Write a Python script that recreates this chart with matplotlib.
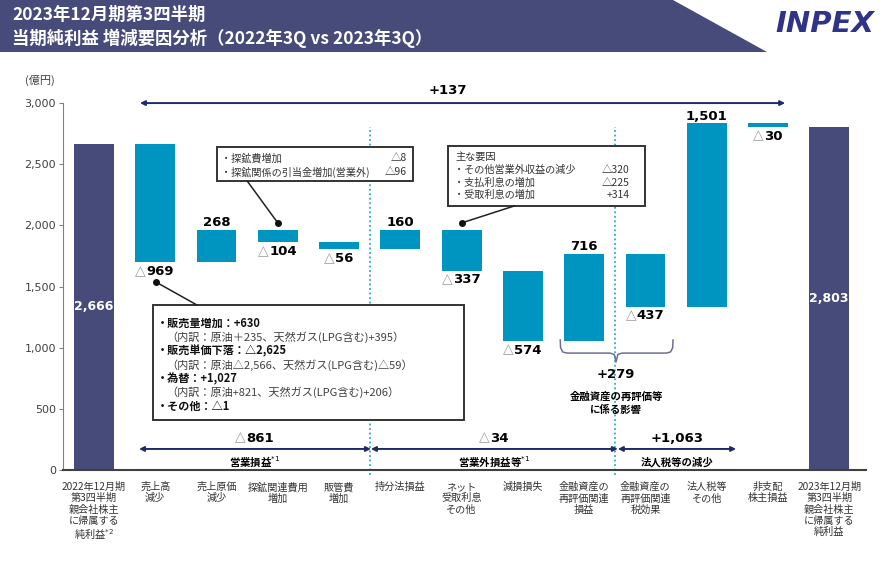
import matplotlib
matplotlib.use('Agg')
import matplotlib.pyplot as plt
from matplotlib.patches import Rectangle, Polygon

plt.rcParams['font.family'] = ['Noto Sans CJK JP', 'DejaVu Sans']

# ---- data ----
categories = [
    '2022年12月期\n第3四半期\n親会社株主\nに帰属する\n純利益$^{*2}$',
    '売上高\n減少', '売上原価\n減少', '探鉱関連費用\n増加', '販管費\n増加',
    '持分法損益', 'ネット\n受取利息\nその他', '減損損失',
    '金融資産の\n再評価関連\n損益', '金融資産の\n再評価関連\n税効果',
    '法人税等\nその他', '非支配\n株主損益',
    '2023年12月期\n第3四半期\n親会社株主\nに帰属する\n純利益',
]
start_value = 2666
end_value = 2803
deltas = [-969, 268, -104, -56, 160, -337, -574, 716, -437, 1501, -30]
total_change = '+137'

group_values = ['△861', '△34', '+1,063']
group_names = ['営業損益$^{*1}$', '営業外損益等$^{*1}$', '法人税等の減少']
group_spans = [(0.735, 4.52), (4.52, 8.55), (8.55, 10.48)]

box1_lines = [
    ('・販売量増加：+630', True),
    ('（内訳：原油＋235、天然ガス(LPG含む)+395）', False),
    ('・販売単価下落：△2,625', True),
    ('（内訳：原油△2,566、天然ガス(LPG含む)△59）', False),
    ('・為替：+1,027', True),
    ('（内訳：原油+821、天然ガス(LPG含む)+206）', False),
    ('・その他：△1', True),
]
box2_items = ['・探鉱費増加', '・探鉱関係の引当金増加(営業外)']
box2_values = ['△8', '△96']
box3_items = ['・その他営業外収益の減少', '・支払利息の増加', '・受取利息の増加']
box3_values = ['△320', '△225', '+314']

NAVY = '#474b7a'
BLUE = '#0095c0'
ARROW = '#1f2a66'
DOT = '#2aa8d8'
GRAY_TRI = '#a0a0a0'

fig = plt.figure(figsize=(8.86, 5.61), dpi=100)

# title banner
fig.patches.append(Polygon([(0, 1), (673 / 886, 1), (767 / 886, 1 - 52 / 561), (0, 1 - 52 / 561)],
                           closed=True, transform=fig.transFigure, facecolor=NAVY, edgecolor='none'))
fig.text(12 / 886, 1 - 15 / 561, '2023年12月期第3四半期', color='white', fontsize=12.5,
         fontweight='bold', va='center', ha='left')
fig.text(12 / 886, 1 - 38 / 561, '当期純利益 増減要因分析（2022年3Q vs 2023年3Q）', color='white',
         fontsize=12.5, fontweight='bold', va='center', ha='left')
fig.text(825 / 886, 1 - 24 / 561, 'INPEX', color='#2f3488', fontsize=21, fontweight='bold',
         fontstyle='italic', family='DejaVu Sans', ha='center', va='center')
fig.text(40 / 886, 1 - 80 / 561, '(億円)', fontsize=8, color='#404040', ha='center', va='center')

ax = fig.add_axes([63 / 886, 91 / 561, (866 - 63) / 886, 397.5 / 561])
ax.set_xlim(-0.506, 12.6)
ax.set_ylim(0, 3250)

# ---- waterfall ----
n = len(categories)
width = 0.65
ax.bar(0, start_value, width=width, color=NAVY, zorder=2)
ax.bar(n - 1, end_value, width=width, color=NAVY, zorder=2)

level = start_value
bar_ranges = []
for i, d in enumerate(deltas, start=1):
    lo, hi = min(level, level + d), max(level, level + d)
    ax.bar(i, hi - lo, bottom=lo, width=width, color=BLUE, zorder=2)
    bar_ranges.append((i, lo, hi, d))
    level += d


def num_label(x, y, text, dy, size=9.5, color='black'):
    if text.startswith('△'):
        digits = text[1:]
        tri_w = size * 0.8
        num_w = size * sum(0.36 if c == ',' else 0.7 for c in digits)
        shift = (tri_w - num_w) / 2
        ax.annotate('△', (x, y), xytext=(shift - 0.5, dy), textcoords='offset points', ha='right',
                    va='baseline', color=GRAY_TRI, fontsize=size + 0.5, family='DejaVu Sans',
                    annotation_clip=False)
        ax.annotate(digits, (x, y), xytext=(shift, dy), textcoords='offset points', ha='left',
                    va='baseline', fontsize=size, fontweight='bold', family='DejaVu Sans',
                    color=color, annotation_clip=False)
    else:
        ax.annotate(text, (x, y), xytext=(0, dy), textcoords='offset points', ha='center',
                    va='baseline', fontsize=size, fontweight='bold', family='DejaVu Sans',
                    color=color, annotation_clip=False)


for i, lo, hi, d in bar_ranges:
    txt = f'{d:,}' if d > 0 else f'△{abs(d):,}'
    if d > 0:
        num_label(i, hi, txt, 2.5)
    else:
        num_label(i, lo, txt, -9)

ax.text(0, start_value / 2, f'{start_value:,}', color='white', fontsize=9, fontweight='bold',
        family='DejaVu Sans', ha='center', va='center', zorder=3)
ax.text(n - 1, end_value / 2, f'{end_value:,}', color='white', fontsize=9, fontweight='bold',
        family='DejaVu Sans', ha='center', va='center', zorder=3)

# dotted separators
for xs in (4.5, 8.5):
    ax.plot([xs, xs], [-40, 2805], color=DOT, linestyle=(0, (1, 1.5)), lw=1.3, zorder=1,
            clip_on=False)

# +137 arrow
ax.annotate('', xy=(11.28, 3000), xytext=(0.75, 3000),
            arrowprops=dict(arrowstyle='<|-|>', color=ARROW, lw=1.4, mutation_scale=7,
                            shrinkA=0, shrinkB=0))
ax.text(5.78, 3106, total_change, fontsize=9.5, fontweight='bold', family='DejaVu Sans',
        ha='center', va='center')

# group arrows
for (x0, x1), val, name in zip(group_spans, group_values, group_names):
    ax.annotate('', xy=(x1, 172), xytext=(x0, 172),
                arrowprops=dict(arrowstyle='<|-|>', color=ARROW, lw=1.4, mutation_scale=7,
                                shrinkA=0, shrinkB=0))
    xm = (x0 + x1) / 2
    num_label(xm, 232, val, 0)
    ax.text(xm, 65, name, fontsize=7.5, fontweight='bold', ha='center', va='center')

# brace for +279
bx = [7.61, 7.615, 7.65, 7.72, 8.42, 8.49, 8.52, 8.55, 8.62, 9.34, 9.41, 9.445, 9.45]
by = [1063, 1000, 965, 956, 956, 945, 883, 945, 956, 956, 965, 1000, 1063]
ax.plot(bx, by, color='#6b6f99', lw=1.1, zorder=3)
ax.text(8.52, 777, '+279', fontsize=9.5, fontweight='bold', family='DejaVu Sans',
        ha='center', va='center')
ax.text(8.52, 597, '金融資産の再評価等', fontsize=7.5, fontweight='bold', ha='center', va='center')
ax.text(8.52, 490, 'に係る影響', fontsize=7.5, fontweight='bold', ha='center', va='center')

# box 1
ax.add_patch(Rectangle((0.96, 409), 6.04 - 0.96, 1349 - 409, facecolor='white',
                       edgecolor='#333333', lw=1.4, zorder=4))
for k, (line, bold) in enumerate(box1_lines):
    yy = 1200 - 113 * k
    if bold:
        ax.text(1.03, yy, line, fontsize=8, fontweight='bold', color='#111111',
                ha='left', va='center', zorder=5)
    else:
        ax.text(1.18, yy, line, fontsize=8, color='#404040', ha='left', va='center', zorder=5)
ax.plot([1.68, 1.01], [1349, 1537], color='#222222', lw=1.1, zorder=4)
ax.plot(1.01, 1537, 'o', color='#111111', ms=4, zorder=5)

# box 2
ax.add_patch(Rectangle((2.01, 2363), 5.21 - 2.01, 2641 - 2363, facecolor='white',
                       edgecolor='#333333', lw=1.4, zorder=4))
for k, (item, val) in enumerate(zip(box2_items, box2_values)):
    yy = 2551 - 115 * k
    ax.text(2.08, yy, item, fontsize=7.3, color='#333333', ha='left', va='center', zorder=5)
    ax.text(5.1, yy, val, fontsize=7.5, color='#333333', ha='right', va='center', zorder=5)
ax.plot([2.5, 3.0], [2363, 2020], color='#222222', lw=1.1, zorder=4)
ax.plot(3.0, 2020, 'o', color='#111111', ms=4, zorder=5)

# box 3
ax.add_patch(Rectangle((5.78, 2159), 9.0 - 5.78, 2650 - 2159, facecolor='white',
                       edgecolor='#333333', lw=1.4, zorder=4))
ax.text(5.9, 2559, '主な要因', fontsize=7.3, color='#333333', ha='left', va='center', zorder=5)
for k, (item, val) in enumerate(zip(box3_items, box3_values)):
    yy = 2452 - 102 * k
    ax.text(5.88, yy, item, fontsize=7.3, color='#333333', ha='left', va='center', zorder=5)
    ax.text(8.74, yy, val, fontsize=7.5, color='#333333', ha='right', va='center', zorder=5)
ax.plot([6.86, 6.0], [2159, 2020], color='#222222', lw=1.1, zorder=4)
ax.plot(6.0, 2020, 'o', color='#111111', ms=4, zorder=5)

# category labels
for i, lab in enumerate(categories):
    ax.text(i, -0.03, lab, transform=ax.get_xaxis_transform(), fontsize=7.3, color='#333333',
            ha='center', va='top', linespacing=1.15)

# axes styling
ax.set_xticks([])
ax.set_yticks([0, 500, 1000, 1500, 2000, 2500, 3000])
ax.set_yticklabels(['0', '500', '1,000', '1,500', '2,000', '2,500', '3,000'],
                   family='DejaVu Sans', fontsize=8, color='#404040')
ax.tick_params(axis='y', length=3, color='#808080', pad=2)
for s in ('top', 'right'):
    ax.spines[s].set_visible(False)
ax.spines['left'].set_bounds(0, 3000)
ax.spines['left'].set_color('#808080')
ax.spines['bottom'].set_color('#404040')
ax.spines['bottom'].set_linewidth(1.5)

fig.savefig('out.png', dpi=100)
